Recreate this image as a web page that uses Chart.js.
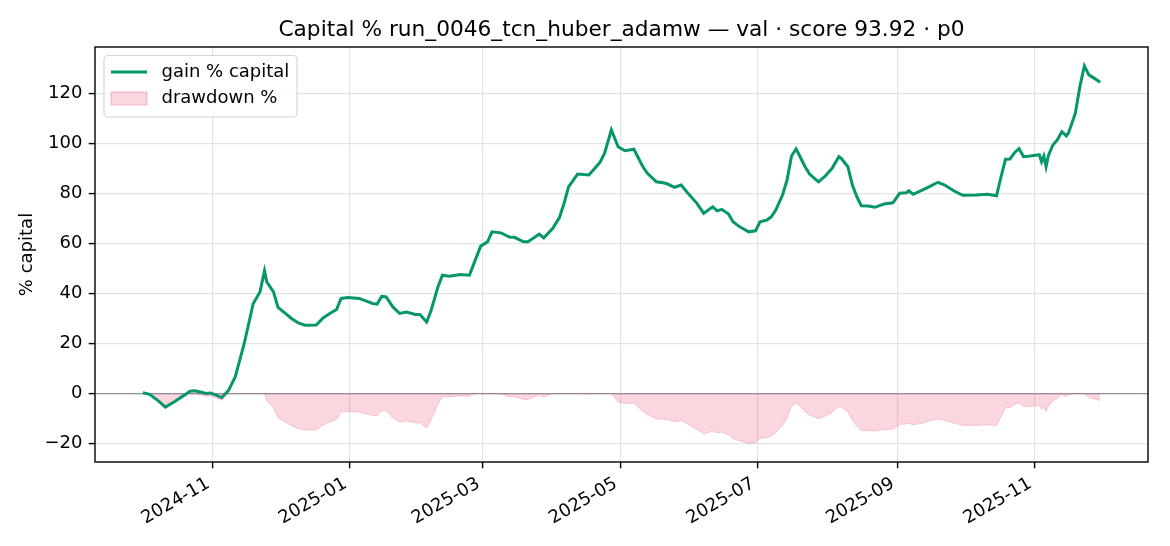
<!DOCTYPE html>
<html>
<head>
<meta charset="utf-8">
<script src="https://cdn.jsdelivr.net/npm/chart.js@4.4.1/dist/chart.umd.min.js"></script>
<style>
  html, body { margin: 0; padding: 0; background: #fff; }
</style>
</head>
<body>
<canvas id="chart" width="1170" height="546"></canvas>
<script>
// values
const dates = [
  "2024-10-01","2024-10-04","2024-10-08","2024-10-11","2024-10-15","2024-10-18","2024-10-22","2024-10-24",
  "2024-10-27","2024-10-29","2024-10-31","2024-11-02","2024-11-05","2024-11-08","2024-11-11","2024-11-15",
  "2024-11-19","2024-11-22","2024-11-24","2024-11-25","2024-11-28","2024-11-30","2024-12-03","2024-12-06",
  "2024-12-09","2024-12-12","2024-12-17","2024-12-20","2024-12-23","2024-12-26","2024-12-28","2024-12-31",
  "2025-01-05","2025-01-08","2025-01-11","2025-01-13","2025-01-15","2025-01-17","2025-01-20","2025-01-23",
  "2025-01-26","2025-01-30","2025-02-01","2025-02-04","2025-02-06","2025-02-09","2025-02-11","2025-02-14",
  "2025-02-19","2025-02-23","2025-02-25","2025-02-28","2025-03-03","2025-03-05","2025-03-09","2025-03-13",
  "2025-03-15","2025-03-19","2025-03-21","2025-03-26","2025-03-28","2025-04-01","2025-04-04","2025-04-06",
  "2025-04-08","2025-04-12","2025-04-17","2025-04-19","2025-04-22","2025-04-24","2025-04-27","2025-04-30",
  "2025-05-03","2025-05-07","2025-05-11","2025-05-13","2025-05-17","2025-05-20","2025-05-22","2025-05-25",
  "2025-05-28","2025-05-31","2025-06-04","2025-06-07","2025-06-11","2025-06-13","2025-06-15","2025-06-18",
  "2025-06-20","2025-06-23","2025-06-27","2025-06-30","2025-07-02","2025-07-05","2025-07-07","2025-07-09",
  "2025-07-12","2025-07-14","2025-07-16","2025-07-18","2025-07-19","2025-07-22","2025-07-24","2025-07-27",
  "2025-07-28","2025-07-31","2025-08-03","2025-08-06","2025-08-07","2025-08-10","2025-08-12","2025-08-14",
  "2025-08-16","2025-08-19","2025-08-22","2025-08-26","2025-08-30","2025-09-02","2025-09-05","2025-09-06",
  "2025-09-08","2025-09-12","2025-09-15","2025-09-19","2025-09-22","2025-09-26","2025-09-30","2025-10-06",
  "2025-10-11","2025-10-15","2025-10-17","2025-10-19","2025-10-21","2025-10-23","2025-10-25","2025-10-27",
  "2025-10-30","2025-11-03","2025-11-04","2025-11-05","2025-11-06","2025-11-07","2025-11-09","2025-11-11",
  "2025-11-13","2025-11-15","2025-11-16","2025-11-19","2025-11-21","2025-11-23","2025-11-25","2025-11-28",
  "2025-11-30"
];

const gainPct = [
  0.3, -0.3, -3.0, -5.4, -3.3, -1.5, 0.9, 1.1,
  0.5, 0.0, 0.2, -0.4, -1.6, 1.2, 6.6, 20.0,
  36.0, 40.6, 49.0, 44.6, 40.6, 34.4, 32.2, 30.0,
  28.2, 27.3, 27.4, 30.2, 32.0, 33.6, 38.0, 38.4,
  38.0, 37.0, 36.0, 35.7, 38.8, 38.6, 34.6, 32.0,
  32.6, 31.6, 31.6, 28.6, 33.3, 42.6, 47.3, 46.9,
  47.6, 47.3, 52.0, 58.9, 60.6, 64.6, 64.2, 62.4,
  62.4, 60.6, 60.6, 63.7, 62.2, 66.0, 70.4, 76.0,
  82.6, 87.7, 87.3, 89.3, 92.4, 96.0, 105.3, 98.6,
  97.0, 97.6, 90.6, 88.0, 84.6, 84.2, 83.7, 82.4,
  83.3, 80.0, 76.0, 72.0, 74.6, 73.0, 73.6, 71.7,
  68.6, 66.6, 64.6, 65.0, 68.6, 69.3, 70.6, 73.3,
  79.3, 85.3, 94.9, 97.7, 96.0, 90.6, 87.7, 85.3,
  84.6, 86.9, 90.0, 94.6, 94.0, 90.6, 83.3, 78.6,
  75.0, 74.9, 74.4, 75.7, 76.2, 80.0, 80.2, 81.0,
  79.6, 81.3, 82.6, 84.4, 83.3, 81.0, 79.2, 79.3,
  79.6, 79.0, 86.6, 93.6, 93.7, 96.2, 97.8, 94.6,
  94.9, 95.4, 92.6, 94.9, 90.6, 94.9, 99.3, 101.3,
  104.6, 102.9, 104.2, 112.0, 122.6, 130.9, 127.3, 125.6,
  124.4
];

const drawdownPct = [
  0, -0.6, -3.3, -5.7, -3.6, -1.8, 0, 0,
  -0.6, -1.1, -0.9, -1.5, -2.7, 0, 0, 0,
  0, 0, 0, -3.0, -5.6, -9.8, -11.3, -12.8,
  -14.0, -14.6, -14.5, -12.6, -11.4, -10.3, -7.4, -7.1,
  -7.4, -8.1, -8.7, -8.9, -6.8, -6.9, -9.7, -11.4,
  -11.0, -11.7, -11.7, -13.7, -10.5, -4.3, -1.1, -1.4,
  -0.9, -1.1, 0, 0, 0, 0, -0.2, -1.3,
  -1.3, -2.4, -2.4, -0.5, -1.5, 0, 0, 0,
  0, 0, -0.2, 0, 0, 0, 0, -3.3,
  -4.0, -3.8, -7.2, -8.4, -10.1, -10.3, -10.5, -11.2,
  -10.7, -12.3, -14.3, -16.2, -15.0, -15.7, -15.4, -16.4,
  -17.9, -18.9, -19.8, -19.6, -17.9, -17.5, -16.9, -15.6,
  -12.7, -9.7, -5.1, -3.7, -4.5, -7.2, -8.6, -9.7,
  -10.1, -9.0, -7.5, -5.2, -5.5, -7.2, -10.7, -13.0,
  -14.8, -14.8, -15.0, -14.4, -14.2, -12.3, -12.2, -11.8,
  -12.5, -11.8, -11.0, -10.2, -10.7, -11.8, -12.7, -12.7,
  -12.5, -12.8, -9.1, -5.7, -5.6, -4.4, -3.7, -5.2,
  -5.1, -4.8, -6.2, -5.1, -7.2, -5.1, -2.9, -1.9,
  -0.3, -1.2, -0.5, 0, 0, 0, -1.6, -2.3,
  -2.8
];

const xTickDates = ["2024-11-01","2025-01-01","2025-03-01","2025-05-01","2025-07-01","2025-09-01","2025-11-01"];
const yTickValues = [-20, 0, 20, 40, 60, 80, 100, 120];

const titleText = "Capital % run_0046_tcn_huber_adamw \u2014 val \u00b7 score 93.92 \u00b7 p0";
const seriesLabels = ["gain % capital", "drawdown %"];

// ---- derived for the library ----
const xs = dates.map(d => Date.parse(d));
const gainPoints = xs.map((x, i) => ({ x: x, y: gainPct[i] }));
const ddPoints = xs.map((x, i) => ({ x: x, y: drawdownPct[i] }));

// matplotlib-like 5% margins
const xSpan = xs[xs.length - 1] - xs[0];
const xMin = xs[0] - xSpan * 0.05, xMax = xs[xs.length - 1] + xSpan * 0.05;
const allY = gainPct.concat(drawdownPct);
const yLo = Math.min(...allY), yHi = Math.max(...allY);
const yMin = yLo - (yHi - yLo) * 0.05, yMax = yHi + (yHi - yLo) * 0.05;

const FONT = "DejaVu Sans";
const GREEN = "#059669";
const FS = 18;          // 10pt at ~130 dpi
const TICK_LEN = 6.3;
const TICK_PAD = 6.3;

Chart.defaults.font.family = FONT;
Chart.defaults.color = "#000";

const fmtMonth = (v) => new Date(v).toISOString().slice(0, 7);

const frameAndTitle = {
  id: "frameAndTitle",
  beforeDatasetsDraw(chart) {
    const { ctx, chartArea, scales } = chart;
    const y0 = scales.y.getPixelForValue(0);
    ctx.save();
    ctx.strokeStyle = "#8f97a6";
    ctx.lineWidth = 1.2;
    ctx.beginPath();
    ctx.moveTo(chartArea.left, y0);
    ctx.lineTo(chartArea.right, y0);
    ctx.stroke();
    ctx.restore();
  },
  afterDraw(chart) {
    const { ctx, chartArea, scales } = chart;
    ctx.save();
    // axes frame
    ctx.strokeStyle = "#000";
    ctx.lineWidth = 1.4;
    ctx.strokeRect(chartArea.left, chartArea.top, chartArea.right - chartArea.left, chartArea.bottom - chartArea.top);

    // rotated date labels, right/top aligned like autofmt_xdate
    ctx.fillStyle = "#000";
    ctx.font = FS + "px '" + FONT + "'";
    ctx.textAlign = "right";
    ctx.textBaseline = "alphabetic";
    const ang = Math.PI / 6;
    const top = chartArea.bottom + TICK_LEN + TICK_PAD;
    const asc = 0.76 * FS, desc = 0.236 * FS;
    scales.x.ticks.forEach(t => {
      const px = scales.x.getPixelForValue(t.value) - Math.sin(ang) * desc;
      const py = top + Math.cos(ang) * asc;
      ctx.save();
      ctx.translate(px, py);
      ctx.rotate(-ang);
      ctx.fillText(fmtMonth(t.value), 0, 0);
      ctx.restore();
    });

    // title
    ctx.font = "21.7px '" + FONT + "'";
    ctx.textAlign = "center";
    ctx.textBaseline = "alphabetic";
    ctx.fillText(titleText, (chartArea.left + chartArea.right) / 2, chartArea.top - 10.8);

    // legend box in the upper left of the axes
    const bx = chartArea.left + 9, by = chartArea.top + 8.5, bw = 193, bh = 61.5;
    ctx.beginPath();
    ctx.roundRect(bx, by, bw, bh, 4);
    ctx.fillStyle = "rgba(255,255,255,0.85)";
    ctx.fill();
    ctx.strokeStyle = "#d6d6d6";
    ctx.lineWidth = 1.2;
    ctx.stroke();

    const ds = chart.data.datasets;
    const r1 = by + 16.5, r2 = by + 43;
    ctx.strokeStyle = ds[0].borderColor;
    ctx.lineWidth = ds[0].borderWidth;
    ctx.beginPath();
    ctx.moveTo(bx + 7, r1);
    ctx.lineTo(bx + 43, r1);
    ctx.stroke();

    ctx.fillStyle = ds[1].backgroundColor;
    ctx.fillRect(bx + 7, r2 - 6.5, 36, 13);
    ctx.strokeStyle = "rgba(225,29,72,0.25)";
    ctx.lineWidth = 1;
    ctx.strokeRect(bx + 7, r2 - 6.5, 36, 13);

    ctx.fillStyle = "#000";
    ctx.font = FS + "px '" + FONT + "'";
    ctx.textAlign = "left";
    ctx.textBaseline = "middle";
    ctx.fillText(ds[0].label, bx + 57.5, r1);
    ctx.fillText(ds[1].label, bx + 57.5, r2);
    ctx.restore();
  }
};

new Chart(document.getElementById("chart"), {
  type: "line",
  data: {
    datasets: [
      {
        label: seriesLabels[0],
        data: gainPoints,
        borderColor: GREEN,
        borderWidth: 3,
        pointRadius: 0,
        tension: 0,
        fill: false,
        order: 0
      },
      {
        label: seriesLabels[1],
        data: ddPoints,
        borderColor: "rgba(225,29,72,0.2)",
        backgroundColor: "rgba(225,29,72,0.18)",
        borderWidth: 1,
        pointRadius: 0,
        tension: 0,
        fill: "origin",
        order: 1
      }
    ]
  },
  options: {
    responsive: false,
    animation: false,
    devicePixelRatio: 1,
    layout: { padding: { left: 0, right: 22, top: 47, bottom: 0 } },
    plugins: {
      legend: { display: false },
      title: { display: false },
      tooltip: { enabled: false }
    },
    scales: {
      x: {
        type: "linear",
        min: xMin,
        max: xMax,
        afterBuildTicks: (scale) => { scale.ticks = xTickDates.map(d => ({ value: Date.parse(d) })); },
        afterFit: (scale) => { scale.height = 84; },
        border: { display: false },
        grid: { color: "#e4e4e4", lineWidth: 1.2, tickColor: "#000", tickLength: TICK_LEN, tickWidth: 1.4 },
        ticks: { display: false, autoSkip: false, callback: fmtMonth }
      },
      y: {
        min: yMin,
        max: yMax,
        afterBuildTicks: (scale) => { scale.ticks = yTickValues.map(v => ({ value: v })); },
        afterFit: (scale) => { scale.width = 95; },
        border: { display: false },
        grid: { color: "#e4e4e4", lineWidth: 1.2, tickColor: "#000", tickLength: TICK_LEN, tickWidth: 1.4 },
        title: { display: true, text: "% capital", font: { size: FS }, color: "#000", padding: { top: 17, bottom: 0 } },
        ticks: {
          padding: TICK_PAD,
          font: { size: FS },
          color: "#000",
          callback: (v) => String(v).replace("-", "\u2212")
        }
      }
    }
  },
  plugins: [frameAndTitle]
});
</script>
</body>
</html>
